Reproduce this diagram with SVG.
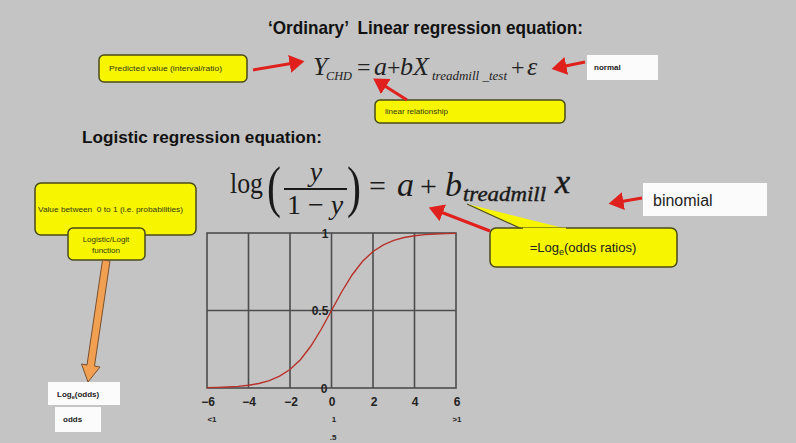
<svg xmlns="http://www.w3.org/2000/svg" width="796" height="443" viewBox="0 0 796 443">
<style>
.sans{font-family:"Liberation Sans","Open Sans",sans-serif}
.ser{font-family:"Liberation Serif","DejaVu Serif",serif}
.ybox{fill:#f7f500;stroke:#4a4a18;stroke-width:1.5}
.wbox{fill:#fbfbfb}
.small{font-family:"Liberation Sans",sans-serif;font-size:8px;fill:#333a10;white-space:pre}
.grid{stroke:#4d4d4d;stroke-width:1.6;fill:none}
.red{stroke:#e0201c;stroke-width:3;fill:none;marker-end:url(#rh)}
.ax{font-family:"Liberation Sans",sans-serif;font-size:12px;font-weight:bold;fill:#222;text-anchor:middle}
.tick{font-family:"Liberation Sans",sans-serif;font-size:8px;font-weight:bold;fill:#222;text-anchor:middle}
</style>
<defs>
<marker id="rh" markerWidth="6" markerHeight="6" refX="3.5" refY="3" orient="auto" markerUnits="strokeWidth">
<path d="M0,0 L5,3 L0,6 Z" fill="#e0201c"/>
</marker>
</defs>
<rect width="796" height="443" fill="#c4c4c4"/>

<g id="title">
<text class="sans" x="268" y="34" font-size="19" font-weight="bold" fill="#111" style="white-space:pre" textLength="315" lengthAdjust="spacingAndGlyphs">‘Ordinary’  Linear regression equation:</text>
</g>

<g id="eq1" class="ser" fill="#222" font-style="italic">
<text x="313" y="75" font-size="26">Y</text>
<text x="326" y="80" font-size="12" textLength="26" lengthAdjust="spacingAndGlyphs">CHD</text>
<text x="357" y="75" font-size="24" font-style="normal">=</text>
<text x="374" y="75" font-size="26">a</text>
<text x="387" y="75" font-size="24" font-style="normal">+</text>
<text x="400" y="75" font-size="26">bX</text>
<text x="432" y="80" font-size="12" style="white-space:pre" textLength="75" lengthAdjust="spacingAndGlyphs">treadmill _test</text>
<text x="511" y="75" font-size="24" font-style="normal">+</text>
<text x="527" y="75" font-size="26">ε</text>
</g>

<g id="predicted">
<rect class="ybox" x="99" y="55" width="148" height="27" rx="5"/>
<text class="small" x="109" y="71" textLength="113" lengthAdjust="spacingAndGlyphs">Predicted value (interval/ratio)</text>
</g>

<g id="normal">
<rect class="wbox" x="587" y="55" width="71" height="25"/>
<text class="sans" x="594" y="70" font-size="8" font-weight="bold" fill="#222">normal</text>
</g>

<g id="linear">
<rect class="ybox" x="375" y="100" width="190" height="23" rx="5"/>
<text class="small" x="385" y="114" textLength="63" lengthAdjust="spacingAndGlyphs">linear relationship</text>
</g>

<g id="subtitle">
<text class="sans" x="82" y="143" font-size="17" font-weight="bold" fill="#111" textLength="240" lengthAdjust="spacingAndGlyphs">Logistic regression equation:</text>
</g>

<g id="eq2" class="ser" fill="#1a1a1a">
<text x="230" y="193" font-size="30" textLength="33" lengthAdjust="spacingAndGlyphs">log</text>
<text x="267" y="206" font-size="58" textLength="14" lengthAdjust="spacingAndGlyphs">(</text>
<text x="316" y="181" font-size="28" font-style="italic" text-anchor="middle">y</text>
<line x1="284" y1="189" x2="347" y2="189" stroke="#1a1a1a" stroke-width="2"/>
<text x="315" y="214" font-size="28" text-anchor="middle"><tspan>1 − </tspan><tspan font-style="italic">y</tspan></text>
<text x="347" y="206" font-size="58" textLength="14" lengthAdjust="spacingAndGlyphs">)</text>
<text x="369" y="196" font-size="30">=</text>
<text x="397" y="196" font-size="34" font-style="italic">a</text>
<text x="420" y="196" font-size="30">+</text>
<text x="445" y="196" font-size="34" font-style="italic">b</text>
<text x="463" y="201" font-size="20" font-style="italic" textLength="83" lengthAdjust="spacingAndGlyphs" stroke="#1a1a1a" stroke-width="0.4">treadmill</text>
<text x="555" y="193" font-size="34" font-style="italic" stroke="#1a1a1a" stroke-width="0.5">x</text>
</g>

<g id="binomial">
<rect class="wbox" x="643" y="183" width="124" height="33"/>
<text class="sans" x="653" y="206" font-size="16" fill="#222">binomial</text>
</g>

<g id="oddsratio">
<path d="M467,204 L522,229 L567,229 Z" fill="#f7f500"/>
<path d="M467,204 L522,229" stroke="#4a4a18" stroke-width="1.2" fill="none"/>
<rect class="ybox" x="490" y="228" width="187" height="39" rx="6"/>
<path d="M523,229 L566,229" stroke="#f7f500" stroke-width="2.5"/>
<text class="sans" x="583" y="252" font-size="13" fill="#222" text-anchor="middle">=Log<tspan font-size="9" dy="3">e</tspan><tspan dy="-3">(odds ratios)</tspan></text>
</g>

<g id="probabilities">
<rect class="ybox" x="35" y="183" width="161" height="52" rx="6"/>
<text class="small" x="38" y="212" textLength="145" lengthAdjust="spacingAndGlyphs">Value between  0 to 1 (i.e. probabilities)</text>
</g>

<g id="logit">
<rect class="ybox" x="68" y="228" width="77" height="32" rx="5"/>
<text class="small" x="106" y="242" text-anchor="middle">Logistic/Logit</text>
<text class="small" x="106" y="253" text-anchor="middle">function</text>
</g>

<g id="logodds">
<rect class="wbox" x="48" y="382" width="72" height="23"/>
<text class="sans" x="57" y="397" font-size="8" font-weight="bold" fill="#222">Log<tspan font-size="5.5" dy="2">e</tspan><tspan dy="-2">(odds)</tspan></text>
</g>

<g id="odds">
<rect class="wbox" x="55" y="407" width="46" height="25"/>
<text class="sans" x="63" y="422" font-size="8" font-weight="bold" fill="#222">odds</text>
</g>

<g id="chart">
<rect class="grid" x="207" y="233" width="249" height="155"/>
<path class="grid" d="M248.5,233V388M290,233V388M331.5,233V388M373,233V388M414.5,233V388M207,310.5H456"/>
<polyline fill="none" stroke="#b8302a" stroke-width="1.4" points="207,387.6 217.4,387.4 227.75,387 238.1,386.4 248.5,385.2 258.9,383.5 269.25,380.6 279.6,376.2 290,369.5 300.4,359.7 310.75,346.3 321.1,329.5 331.5,310.5 341.9,291.5 352.25,274.7 362.6,261.3 373,251.5 383.4,244.8 393.75,240.4 404.1,237.5 414.5,235.8 424.9,234.6 435.25,234 445.6,233.6 456,233.4"/>
<text class="ax" x="325" y="238" font-size="11">1</text>
<text class="ax" x="320" y="315" font-size="11">0.5</text>
<text class="ax" x="324" y="393" font-size="11">0</text>
<text class="ax" x="208" y="406">−6</text>
<text class="ax" x="249" y="406">−4</text>
<text class="ax" x="291" y="406">−2</text>
<text class="ax" x="332" y="406">0</text>
<text class="ax" x="374" y="406">2</text>
<text class="ax" x="415" y="406">4</text>
<text class="ax" x="457" y="406">6</text>
<text class="tick" x="212" y="422">&lt;1</text>
<text class="tick" x="334" y="422">1</text>
<text class="tick" x="457" y="422">&gt;1</text>
<text class="tick" x="333" y="440">.5</text>
</g>

<g id="connectors">
<line class="red" x1="253" y1="70" x2="300" y2="62"/>
<line class="red" x1="585" y1="62" x2="556" y2="68"/>
<line class="red" x1="407" y1="100" x2="377" y2="81"/>
<line class="red" x1="642" y1="198" x2="613" y2="203"/>
<line class="red" x1="490" y1="231" x2="433" y2="209"/>
<path d="M102.5,260 L110,261 L94.5,366 L100,367 L88,382 L81.5,364 L87,365 Z" fill="#f0a050" stroke="#7a5030" stroke-width="1"/>
</g>
</svg>
